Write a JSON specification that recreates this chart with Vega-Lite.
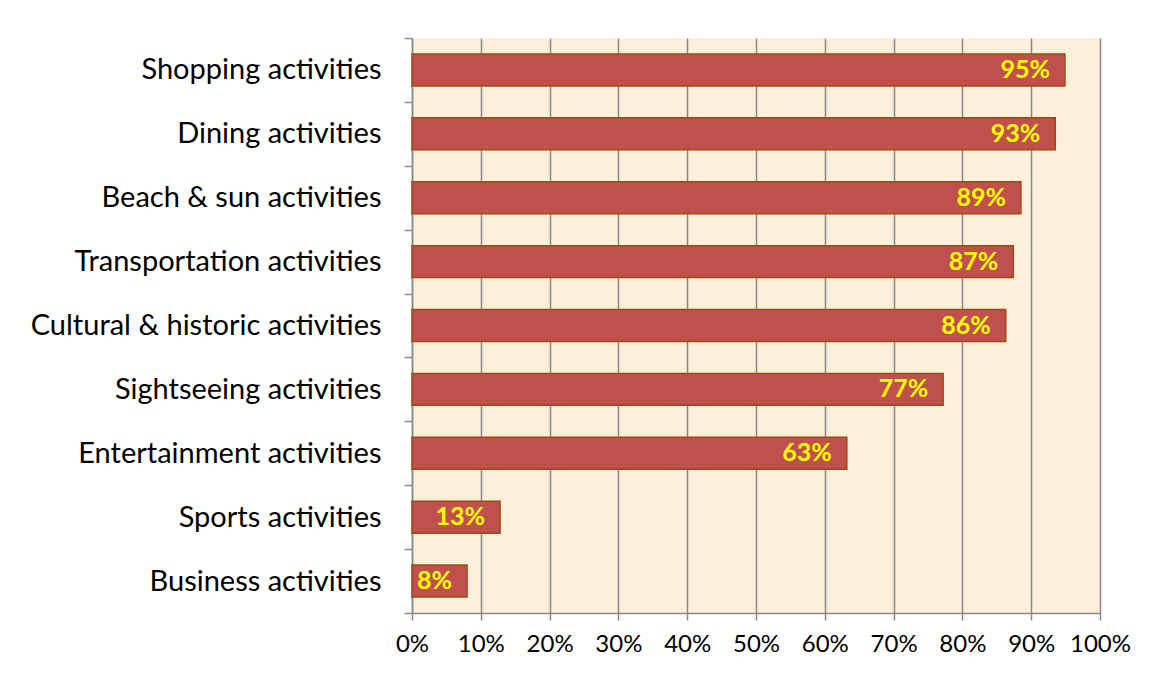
{
  "$schema": "https://vega.github.io/schema/vega-lite/v6.json",
  "autosize": {"type": "none"},
  "width": 688,
  "height": 575,
  "padding": {"left": 412, "top": 38, "right": 51, "bottom": 62},
  "background": "#ffffff",
  "config": {
    "view": {"fill": "#FCF0DA", "stroke": null},
    "font": "Lato"
  },
  "data": {
    "values": [
      {"activity": "Shopping activities", "share": 0.949, "label": "95%"},
      {"activity": "Dining activities", "share": 0.935, "label": "93%"},
      {"activity": "Beach & sun activities", "share": 0.885, "label": "89%"},
      {"activity": "Transportation activities", "share": 0.874, "label": "87%"},
      {"activity": "Cultural & historic activities", "share": 0.863, "label": "86%"},
      {"activity": "Sightseeing activities", "share": 0.772, "label": "77%"},
      {"activity": "Entertainment activities", "share": 0.632, "label": "63%"},
      {"activity": "Sports activities", "share": 0.128, "label": "13%"},
      {"activity": "Business activities", "share": 0.08, "label": "8%"}
    ]
  },
  "encoding": {
    "y": {
      "field": "activity",
      "type": "nominal",
      "sort": null,
      "scale": {"paddingInner": 0, "paddingOuter": 0},
      "axis": {
        "title": null,
        "tickBand": "extent",
        "labelFontSize": 29,
        "labelColor": "#000000",
        "labelPadding": 23,
        "labelLimit": 500,
        "tickSize": 8,
        "tickColor": "#888888",
        "tickWidth": 1.5,
        "domainColor": "#888888",
        "domainWidth": 1.5,
        "grid": false
      }
    }
  },
  "layer": [
    {
      "mark": {"type": "bar", "fill": "#C0504D", "stroke": "#9C4A10", "strokeWidth": 1.5, "height": {"band": 0.5}},
      "encoding": {
        "x": {
          "field": "share",
          "type": "quantitative",
          "scale": {"domain": [0, 1], "nice": false},
          "axis": {
            "title": null,
            "format": ".0%",
            "values": [0, 0.1, 0.2, 0.3, 0.4, 0.5, 0.6, 0.7, 0.8, 0.9, 1],
            "labelFontSize": 24,
            "labelColor": "#000000",
            "labelPadding": 12,
            "labelFlush": false,
            "tickSize": 7,
            "tickColor": "#888888",
            "tickWidth": 1.5,
            "domainColor": "#888888",
            "domainWidth": 1.5,
            "grid": true,
            "gridColor": "#888888",
            "gridWidth": 1.5
          }
        }
      }
    },
    {
      "mark": {"type": "text", "align": "right", "baseline": "middle", "dx": -15, "fontSize": 25, "fontWeight": "bold", "color": "#FFFF00"},
      "encoding": {
        "x": {"field": "share", "type": "quantitative"},
        "text": {"field": "label", "type": "nominal"}
      }
    }
  ]
}
